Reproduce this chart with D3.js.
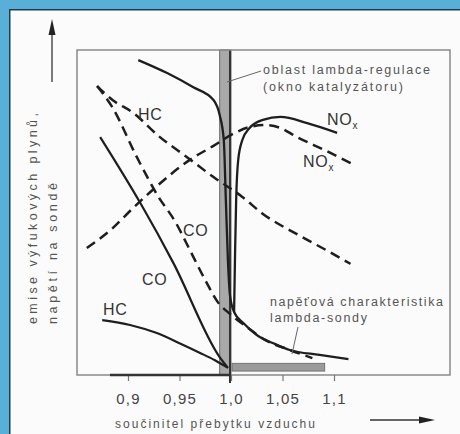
<!DOCTYPE html>
<html><head><meta charset="utf-8">
<script src="https://cdn.jsdelivr.net/npm/d3@7"></script>
<style>html,body{margin:0;padding:0;background:#5aafd6;} svg{display:block;}</style>
</head><body>
<svg id="c" width="460" height="434"></svg>
<script>
// ---- data (lambda, relative level 0..100) ----
const xTicks = [0.9, 0.95, 1.0, 1.05, 1.1];
const xTickLabels = ["0,9", "0,95", "1,0", "1,05", "1,1"];
const lambdaWindow = [0.989, 1.0];
const voltageCurve = [[0.910,96.9],[0.938,92.9],[0.963,88.6],[0.983,84.6],[0.989,80.0],[0.993,72.3],[0.995,53.8],[0.997,35.4],[0.999,24.6],[1.003,19.4],[1.012,16.0],[1.025,12.3],[1.043,9.5],[1.057,7.7],[1.086,6.2],[1.114,4.9]];
const noxSolid = [[1.003,19.4],[1.004,38.5],[1.005,53.8],[1.007,66.2],[1.011,72.3],[1.018,76.0],[1.031,78.5],[1.048,79.4],[1.074,77.5],[1.103,74.5]];
const coSolid = [[0.873,73.2],[0.912,52.9],[0.944,34.5],[0.989,5.5],[0.997,2.2]];
const hcSolid = [[0.875,16.9],[0.902,15.4],[0.928,12.9],[0.950,9.8],[0.970,6.8],[0.984,4.6],[0.997,2.2]];
const hcDashed = [[0.870,88.9],[0.885,84.6],[0.904,80.9],[0.931,73.2],[0.957,67.1],[0.983,60.9],[1.011,54.8],[1.030,49.8],[1.067,42.8],[1.096,37.8],[1.116,34.2]];
const coDashed = [[0.870,88.9],[0.884,82.8],[0.909,66.8],[0.929,55.1],[0.946,47.1],[0.960,38.5],[0.975,29.2],[0.987,22.5],[0.999,18.8],[1.014,15.1],[1.033,10.8],[1.057,7.7],[1.079,5.2]];
const noxDashed = [[0.860,39.1],[0.883,44.6],[0.905,51.4],[0.927,57.8],[0.960,66.2],[0.983,70.5],[1.002,74.2],[1.018,76.3],[1.033,76.9],[1.048,76.0],[1.064,73.2],[1.091,69.2],[1.118,64.9]];
const sensorLowBand = [1.001, 1.091];
const sensorLowLevel = [1.2, 3.6];
const richBaseline = [0.8825, 1.0];
const curveLabels = [
  {t:"HC", sub:"", lam:0.9097, v:78.5},
  {t:"CO", sub:"", lam:0.9534, v:42.8},
  {t:"CO", sub:"", lam:0.9136, v:27.7},
  {t:"HC", sub:"", lam:0.8757, v:18.5},
  {t:"NO", sub:"x", lam:1.0932, v:76.9},
  {t:"NO", sub:"x", lam:1.0699, v:64.0}
];

const svg = d3.select("#c");
const FONT = "'Liberation Sans', Arial, sans-serif";
const W = 460, H = 434;
const m = {l:77, t:50, r:450, b:375};
const x = d3.scaleLinear().domain([0.8505, 1.2126]).range([m.l, m.r]);
const y = d3.scaleLinear().domain([0, 100]).range([m.b, m.t]);

// panel
svg.append("rect").attr("x",0).attr("y",0).attr("width",W).attr("height",H).attr("fill","#5aafd6");
svg.append("rect").attr("x",9.75).attr("y",9.75).attr("width",W).attr("height",H)
  .attr("fill","#fbfbfb").attr("stroke","#2b3a40").attr("stroke-width",1.5);

// lambda window band
svg.append("rect").attr("x",x(lambdaWindow[0])).attr("y",m.t)
  .attr("width",x(lambdaWindow[1])-x(lambdaWindow[0])).attr("height",m.b-m.t)
  .attr("fill","#a9a9a9").attr("stroke","#6a6a6a").attr("stroke-width",1);
svg.append("line").attr("x1",x(lambdaWindow[1])-1).attr("x2",x(lambdaWindow[1])-1)
  .attr("y1",m.t).attr("y2",m.b+8).attr("stroke","#333").attr("stroke-width",2);

// frame
svg.append("rect").attr("x",m.l).attr("y",m.t).attr("width",m.r-m.l).attr("height",m.b-m.t)
  .attr("fill","none").attr("stroke","#8a8a8a").attr("stroke-width",1.5);

// axis
const ax = svg.append("g").attr("transform",`translate(0,${m.b})`)
  .call(d3.axisBottom(x).tickValues(xTicks).tickFormat((d,i)=>xTickLabels[i]).tickSize(6).tickPadding(12));
ax.select(".domain").remove();
ax.selectAll(".tick line").attr("stroke","#777").attr("stroke-width",1.2);
ax.selectAll(".tick text").attr("font-family",FONT).attr("font-size",15).attr("fill","#444")
  .attr("letter-spacing","1.2px");

// rich baseline (thick dark bottom segment)
svg.append("line").attr("x1",x(richBaseline[0])).attr("x2",x(richBaseline[1]))
  .attr("y1",y(0)).attr("y2",y(0)).attr("stroke","#333").attr("stroke-width",2.5);

// sensor low bar
svg.append("rect").attr("x",x(sensorLowBand[0])).attr("y",y(sensorLowLevel[1]))
  .attr("width",x(sensorLowBand[1])-x(sensorLowBand[0])).attr("height",y(sensorLowLevel[0])-y(sensorLowLevel[1]))
  .attr("fill","#9a9a9a").attr("stroke","#666").attr("stroke-width",0.8);

const line = d3.line().x(d=>x(d[0])).y(d=>y(d[1])).curve(d3.curveMonotoneX);
function draw(data, dashed, w){
  svg.append("path").attr("d",line(data)).attr("fill","none").attr("stroke","#1e1e1e")
    .attr("stroke-width",w).attr("stroke-dasharray",dashed?"10,6":null).attr("stroke-linecap","butt");
}
draw(hcDashed,true,2.5);
draw(coDashed,true,2.5);
draw(noxDashed,true,2.5);
draw(coSolid,false,2.2);
draw(hcSolid,false,2.2);
draw(noxSolid,false,2.3);
draw(voltageCurve,false,2.3);

// curve labels
curveLabels.forEach(c=>{
  const t = svg.append("text").attr("x",x(c.lam)).attr("y",y(c.v)).attr("font-family",FONT)
    .attr("font-size",16).attr("fill","#333").attr("letter-spacing","0.8px").text(c.t);
  if(c.sub) t.append("tspan").attr("font-size",10).attr("dy",4).text(c.sub);
});

// annotations
function txt(s,xx,yy,len,size,col){
  return svg.append("text").attr("x",xx).attr("y",yy).attr("font-family",FONT).attr("font-size",size)
    .attr("fill",col).attr("textLength",len).attr("lengthAdjust","spacing").text(s);
}
txt("oblast lambda-regulace",263,74,167,12.5,"#555");
txt("(okno katalyzátoru)",263,91,140,12.5,"#555");
svg.append("line").attr("x1",261).attr("y1",71).attr("x2",x(lambdaWindow[1])-4).attr("y2",82)
  .attr("stroke","#666").attr("stroke-width",1);
txt("napěťová charakteristika",270,306,173,12.5,"#555");
txt("lambda-sondy",270,322,97,12.5,"#555");
svg.append("line").attr("x1",298).attr("y1",327).attr("x2",292).attr("y2",354)
  .attr("stroke","#666").attr("stroke-width",1);

// axis titles
txt("součinitel přebytku vzduchu",115,428,200,12,"#555");
svg.append("text").attr("transform","translate(37,324) rotate(-90)").attr("font-family",FONT)
  .attr("font-size",12.5).attr("fill","#555").attr("textLength",211).attr("lengthAdjust","spacing")
  .text("emise výfukových plynů,");
svg.append("text").attr("transform","translate(57,324) rotate(-90)").attr("font-family",FONT)
  .attr("font-size",12.5).attr("fill","#555").attr("textLength",141).attr("lengthAdjust","spacing")
  .text("napětí na sondě");

// arrows
svg.append("line").attr("x1",52).attr("y1",82).attr("x2",52).attr("y2",32).attr("stroke","#333").attr("stroke-width",1.3);
svg.append("path").attr("d","M52,19 L48.5,35 L55.5,35 Z").attr("fill","#222");
svg.append("line").attr("x1",370).attr("y1",420).attr("x2",422).attr("y2",420).attr("stroke","#333").attr("stroke-width",1.3);
svg.append("path").attr("d","M435,420 L419,416.5 L419,423.5 Z").attr("fill","#222");
</script>
</body></html>
